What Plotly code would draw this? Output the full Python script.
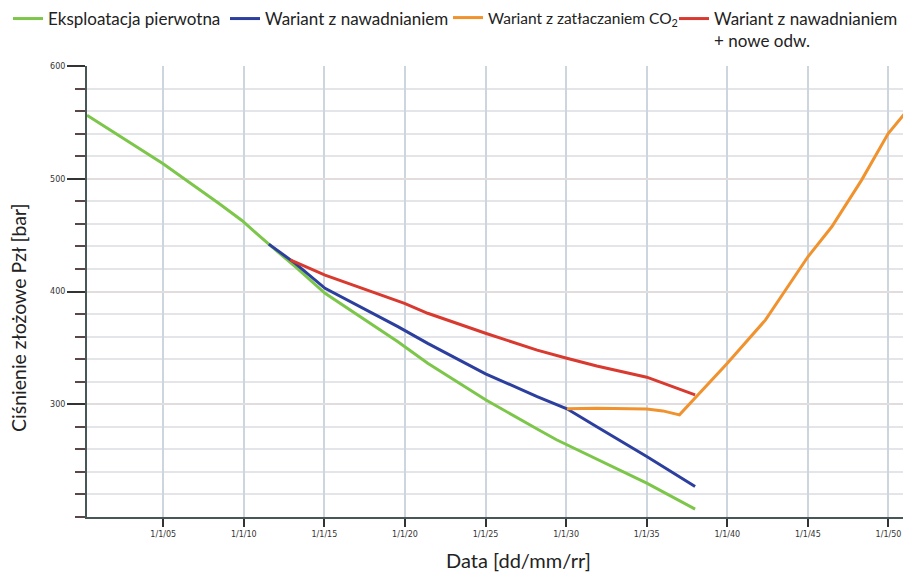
import plotly.graph_objects as go

# ---- data (x = year as decimal, y = pressure in bar) ----
green_x = [2000.27, 2004.97, 2008.46, 2009.88, 2011.55, 2013.19, 2015.04, 2019.56, 2021.41, 2025.0, 2028.2, 2029.4, 2035.0, 2038.0]
green_y = [556.3, 513.5, 478.0, 463.0, 442.0, 422.0, 398.4, 355.5, 336.4, 304.0, 278.0, 268.5, 230.0, 207.0]

blue_x = [2011.55, 2013.19, 2015.04, 2019.56, 2021.41, 2025.0, 2028.2, 2030.05, 2031.9, 2035.0, 2038.0]
blue_y = [442.0, 425.0, 402.8, 368.8, 354.0, 327.0, 306.8, 296.0, 280.0, 253.7, 227.0]

orange_x = [2030.05, 2031.9, 2035.0, 2036.0, 2037.03, 2037.44, 2040.0, 2042.37, 2045.0, 2046.48, 2048.33, 2049.98, 2051.0]
orange_y = [296.0, 296.5, 295.7, 294.1, 290.6, 297.0, 336.4, 374.8, 430.8, 457.4, 498.8, 540.1, 557.8]

red_x = [2012.88, 2015.04, 2019.97, 2021.41, 2025.0, 2028.2, 2030.04, 2031.9, 2035.0, 2038.0]
red_y = [428.0, 414.6, 389.5, 380.7, 363.0, 348.0, 340.8, 334.0, 324.0, 308.3]

tick_years = [2005, 2010, 2015, 2020, 2025, 2030, 2035, 2040, 2045, 2050]
tick_labels = ["1/1/05", "1/1/10", "1/1/15", "1/1/20", "1/1/25", "1/1/30", "1/1/35", "1/1/40", "1/1/45", "1/1/50"]
y_tick_values = [300, 400, 500, 600]

series_names = [
    "Eksploatacja pierwotna",
    "Wariant z nawadnianiem",
    "Wariant z zatłaczaniem CO<sub>2</sub>",
    "Wariant z nawadnianiem<br>+ nowe odw.",
]
series_colors = ["#7cc64a", "#2c3f9e", "#f0922e", "#d93a30"]

# page body has an 8px margin, so the figure is drawn smaller and offset
OFF = 8
W, H = 911 - 2 * OFF, 572 - OFF
ML, MR, MT = 87 - OFF, 0, 66 - OFF
MB = H - (517 - OFF)
PW, PH = W - ML - MR, H - MT - MB
XTITLE_Y = 560  # window y of the x-axis title centre

fig = go.Figure()
legend_ids = ["legend", "legend2", "legend3", "legend4"]
for xs, ys, name, col, lg in zip(
    [green_x, blue_x, orange_x, red_x],
    [green_y, blue_y, orange_y, red_y],
    series_names, series_colors, legend_ids,
):
    fig.add_trace(go.Scatter(x=xs, y=ys, mode="lines", name=name, legend=lg,
                             line=dict(color=col, width=3)))

# window x where each legend text starts, and its font size
legend_text_x = [48, 265, 488, 714]
legend_font_size = [17, 17, 15.5, 17]
legend_layout = {}
for lg, tx, fs in zip(legend_ids, legend_text_x, legend_font_size):
    legend_layout[lg] = dict(
        xref="container", yref="paper", xanchor="left", yanchor="top",
        x=max(0.0, (tx - OFF - 40) / W), y=1 + (MT + 7) / PH,
        valign="top", itemwidth=30, bgcolor="rgba(0,0,0,0)",
        font=dict(family="Lato", size=fs, color="#222"))

fig.update_layout(
    width=W, height=H,
    margin=dict(l=ML, r=MR, t=MT, b=MB, autoexpand=False),
    paper_bgcolor="white", plot_bgcolor="white",
    font=dict(family="Lato", color="#222"),
    showlegend=True,
    **legend_layout,
    xaxis=dict(
        range=[2000.27, 2050.9], automargin=False,
        tickvals=tick_years, ticktext=tick_labels,
        ticks="outside", ticklen=8, tickwidth=2, tickcolor="#333",
        tickfont=dict(family="DejaVu Sans", size=8, color="#333"),
        showline=True, linecolor="#475757", linewidth=2,
        showgrid=True, gridcolor="#cdd6de", gridwidth=1.5,
        zeroline=False,
    ),
    yaxis=dict(
        range=[200, 600], automargin=False,
        tickvals=y_tick_values,
        ticks="outside", ticklen=18, tickwidth=2, tickcolor="#333",
        tickfont=dict(family="DejaVu Sans", size=8, color="#333"),
        showline=True, linecolor="#475757", linewidth=2,
        showgrid=True, gridcolor="#e3dcdc", gridwidth=1.5,
        zeroline=False,
        minor=dict(dtick=20, tick0=0, ticks="outside", ticklen=10, tickwidth=1.5,
                   tickcolor="#5a4848", showgrid=True, gridcolor="#e3e5e8", gridwidth=1.5),
    ),
    annotations=[
        dict(text="Data [dd/mm/rr]", xref="paper", yref="paper",
             x=(518 - OFF - ML) / PW, y=-(XTITLE_Y - 517) / PH,
             xanchor="center", yanchor="middle", showarrow=False,
             font=dict(family="Lato", size=20, color="#222")),
        dict(text="Ciśnienie złożowe Pzł [bar]", xref="paper", yref="paper",
             x=-(87 - 18) / PW, y=(517 - 318) / PH,
             xanchor="center", yanchor="middle", textangle=-90, showarrow=False,
             font=dict(family="Lato", size=19.5, color="#222")),
    ],
)

fig.write_html("out.html")
